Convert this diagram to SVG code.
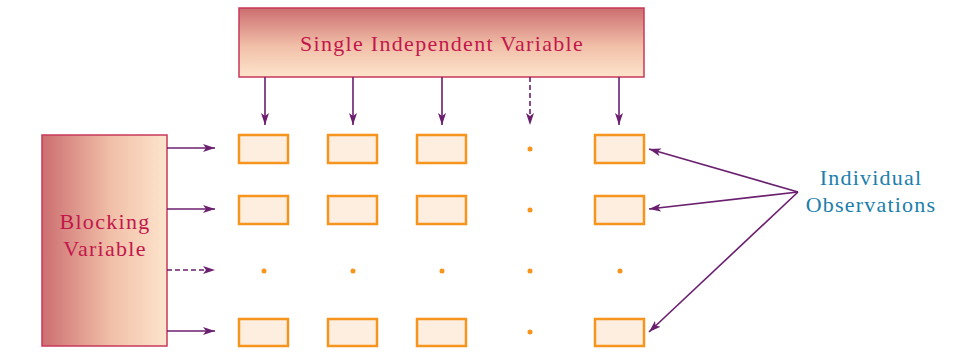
<svg xmlns="http://www.w3.org/2000/svg" width="967" height="355" viewBox="0 0 967 355">
<defs>
<linearGradient id="gv" x1="0" y1="0" x2="0" y2="1">
<stop offset="0" stop-color="#cc6e70"/>
<stop offset="0.55" stop-color="#f1bfa8"/>
<stop offset="1" stop-color="#fde4cc"/>
</linearGradient>
<linearGradient id="gh" x1="0" y1="0" x2="1" y2="0">
<stop offset="0" stop-color="#cc6e70"/>
<stop offset="0.55" stop-color="#f1bfa8"/>
<stop offset="1" stop-color="#fde4cc"/>
</linearGradient>
<marker id="ah" viewBox="0 0 12 8" refX="12" refY="4" markerWidth="12" markerHeight="8" markerUnits="userSpaceOnUse" orient="auto">
<path d="M0,0 L12,4 L0,8 L3,4 Z" fill="#6b1f6f"/>
</marker>
<style>
.big{stroke:#c8385a;stroke-width:1.5}
.lbl{font-family:"Liberation Serif","DejaVu Serif",serif;font-size:22px;letter-spacing:1.3px;fill:#c3174b;text-anchor:middle}
.obs{font-family:"Liberation Serif","DejaVu Serif",serif;font-size:22px;letter-spacing:1.2px;fill:#1b7eab;text-anchor:middle}
.cell{fill:#fdeee0;stroke:#f7941d;stroke-width:2.5}
.dot{fill:#f7941d}
.con{stroke:#6b1f6f;stroke-width:1.6;fill:none;marker-end:url(#ah)}
.dash{stroke-dasharray:5 3}
</style>
</defs>
<g id="independent">
<rect class="big" x="239" y="8" width="405" height="69" fill="url(#gv)"/>
<text class="lbl" x="442" y="51">Single Independent Variable</text>
</g>
<g id="blocking">
<rect class="big" x="42" y="135" width="125" height="211" fill="url(#gh)"/>
<text class="lbl" x="105" y="229">Blocking</text>
<text class="lbl" x="105" y="256">Variable</text>
</g>
<g id="observations-label">
<text class="obs" x="871" y="185">Individual</text>
<text class="obs" x="871" y="212">Observations</text>
</g>
<g id="cells">
<rect class="cell" x="239" y="135" width="49" height="28"/>
<rect class="cell" x="328" y="135" width="49" height="28"/>
<rect class="cell" x="417" y="135" width="49" height="28"/>
<circle class="dot" cx="530" cy="149" r="2.5"/>
<rect class="cell" x="595" y="135" width="49" height="28"/>
<rect class="cell" x="239" y="196" width="49" height="28"/>
<rect class="cell" x="328" y="196" width="49" height="28"/>
<rect class="cell" x="417" y="196" width="49" height="28"/>
<circle class="dot" cx="530" cy="210" r="2.5"/>
<rect class="cell" x="595" y="196" width="49" height="28"/>
<circle class="dot" cx="264" cy="271" r="2.5"/>
<circle class="dot" cx="353" cy="271" r="2.5"/>
<circle class="dot" cx="442" cy="271" r="2.5"/>
<circle class="dot" cx="530" cy="271" r="2.5"/>
<circle class="dot" cx="620" cy="271" r="2.5"/>
<rect class="cell" x="239" y="319" width="49" height="27"/>
<rect class="cell" x="328" y="319" width="49" height="27"/>
<rect class="cell" x="417" y="319" width="49" height="27"/>
<circle class="dot" cx="530" cy="332" r="2.5"/>
<rect class="cell" x="595" y="319" width="49" height="27"/>
</g>
<g id="connectors">
<line class="con" x1="265" y1="77" x2="265" y2="125"/>
<line class="con" x1="353" y1="77" x2="353" y2="125"/>
<line class="con" x1="442" y1="77" x2="442" y2="125"/>
<line class="con dash" x1="530" y1="77" x2="530" y2="125"/>
<line class="con" x1="619" y1="77" x2="619" y2="125"/>
<line class="con" x1="167" y1="148" x2="215" y2="148"/>
<line class="con" x1="167" y1="209" x2="215" y2="209"/>
<line class="con dash" x1="167" y1="270" x2="215" y2="270"/>
<line class="con" x1="167" y1="331" x2="215" y2="331"/>
<line class="con" x1="798" y1="192" x2="649" y2="149"/>
<line class="con" x1="798" y1="192" x2="649" y2="209"/>
<line class="con" x1="798" y1="192" x2="649" y2="332"/>
</g>
</svg>
